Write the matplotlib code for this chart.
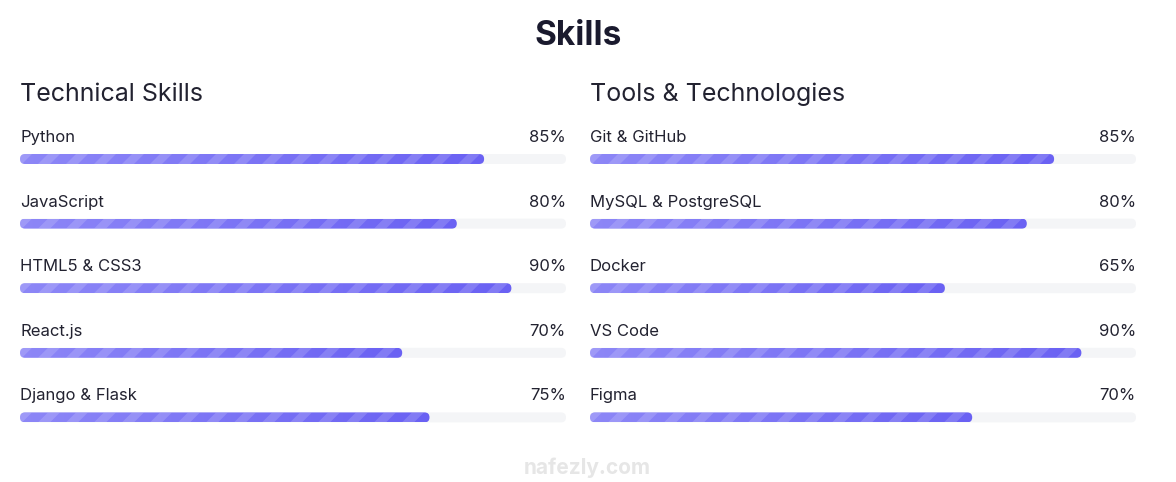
import matplotlib.pyplot as plt
import numpy as np
from matplotlib.colors import LinearSegmentedColormap
from matplotlib.patches import FancyBboxPatch, Polygon

plt.rcParams["font.family"] = ["Inter", "DejaVu Sans"]

# data
tech_names = ["Python", "JavaScript", "HTML5 & CSS3", "React.js", "Django & Flask"]
tech_values = [85, 80, 90, 70, 75]
tool_names = ["Git & GitHub", "MySQL & PostgreSQL", "Docker", "VS Code", "Figma"]
tool_values = [85, 80, 65, 90, 70]

W, H = 1176, 482
COL_W = 546
TOP, BOTTOM = 110, 440
ROW0, ROW_STEP = 49, 64.6
BAR_H = 10
TEXT = "#222230"
TRACK = "#f4f5f7"
bar_cmap = LinearSegmentedColormap.from_list("bar", ["#8d87f7", "#6a61f3"])

fig = plt.figure(figsize=(W / 100, H / 100), dpi=100)
fig.patch.set_facecolor("white")

fig.text(578 / W, 1 - 36 / H, "Skills", ha="center", va="center",
         fontsize=24, fontweight="bold", color="#1a1a2e")


def draw_column(x_px, heading, names, values):
    ax = fig.add_axes([x_px / W, 1 - BOTTOM / H, COL_W / W, (BOTTOM - TOP) / H])
    ax.set_xlim(0, 100)
    ax.set_ylim(BOTTOM - TOP, 0)
    ax.axis("off")
    sx = COL_W / 100.0  # px per percent

    ax.text(0, 101 - TOP, heading, fontsize=18, color=TEXT, va="baseline",
            clip_on=False)

    for i, (name, val) in enumerate(zip(names, values)):
        yc = ROW0 + i * ROW_STEP
        ax.text(0, yc - 17, name, fontsize=12, color=TEXT, va="baseline")
        ax.text(100, yc - 17, f"{val}%", fontsize=12, color=TEXT,
                va="baseline", ha="right")

        style = f"round,pad=0,rounding_size={BAR_H / 2 / sx}"
        track = FancyBboxPatch((0, yc - BAR_H / 2), 100, BAR_H, boxstyle=style,
                               mutation_aspect=sx, fc=TRACK, ec="none")
        ax.add_patch(track)

        fill = FancyBboxPatch((0, yc - BAR_H / 2), val, BAR_H, boxstyle=style,
                              mutation_aspect=sx, fc="none", ec="none")
        ax.add_patch(fill)
        grad = np.linspace(0, 1, 256).reshape(1, -1)
        im = ax.imshow(grad, cmap=bar_cmap, aspect="auto",
                       extent=[0, val, yc + BAR_H / 2, yc - BAR_H / 2], zorder=2)
        im.set_clip_path(fill)

        # diagonal stripes
        period = 28 / sx
        stripe = 12 / sx
        shift = BAR_H / sx
        x = -shift
        while x < val:
            poly = Polygon([(x, yc + BAR_H / 2), (x + stripe, yc + BAR_H / 2),
                            (x + stripe + shift, yc - BAR_H / 2),
                            (x + shift, yc - BAR_H / 2)],
                           closed=True, fc="white", alpha=0.16, ec="none", zorder=3)
            ax.add_patch(poly)
            poly.set_clip_path(fill)
            x += period
    return ax


draw_column(20, "Technical Skills", tech_names, tech_values)
draw_column(590, "Tools & Technologies", tool_names, tool_values)

fig.text(587 / W, 1 - 468 / H, "nafezly.com", ha="center", va="center",
         fontsize=15, color="#e6e6e6", fontweight="bold")

fig.savefig("out.png", dpi=100, facecolor="white")
